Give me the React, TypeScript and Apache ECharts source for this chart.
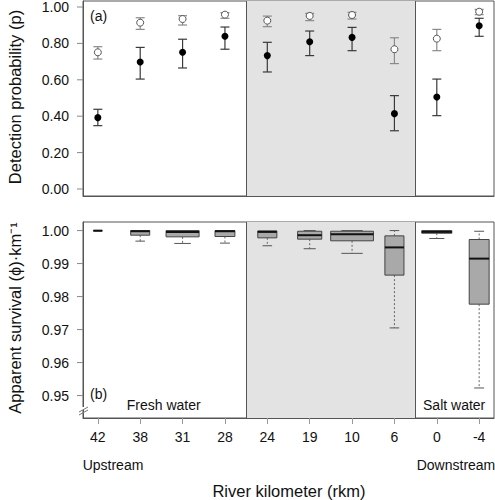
import React, { useEffect, useRef } from "react";
import * as echarts from "echarts";

// ---- data ----
const rkmLabels = ["42", "38", "31", "28", "24", "19", "10", "6", "0", "-4"];
const zoneNames = ["Fresh water", "Transition", "Salt water"];
const zoneCenters = [1.55, 5.5, 8.4];
const zoneBounds = [3.5, 7.5];
const pTicks = [0, 0.2, 0.4, 0.6, 0.8, 1.0];
const sTicks = [0.95, 0.96, 0.97, 0.98, 0.99, 1.0];

// detection probability: open circles
const pOpen = [0.751, 0.914, 0.934, 0.958, 0.925, 0.951, 0.956, 0.768, 0.826, 0.974];
const pOpenLow = [0.714, 0.877, 0.901, 0.938, 0.892, 0.925, 0.934, 0.689, 0.760, 0.958];
const pOpenHigh = [0.782, 0.941, 0.952, 0.969, 0.950, 0.965, 0.971, 0.831, 0.877, 0.987];
// detection probability: filled circles
const pFilled = [0.392, 0.698, 0.751, 0.839, 0.733, 0.809, 0.833, 0.414, 0.505, 0.897];
const pFilledLow = [0.348, 0.604, 0.665, 0.768, 0.643, 0.733, 0.760, 0.320, 0.403, 0.839];
const pFilledHigh = [0.438, 0.778, 0.823, 0.890, 0.806, 0.868, 0.888, 0.513, 0.604, 0.938];

// apparent survival boxplots
const sMin = [0.99995, 0.9968, 0.9961, 0.9962, 0.9954, 0.9945, 0.9931, 0.9705, 0.9976, 0.9523];
const sQ1 = [0.99995, 0.9986, 0.9981, 0.9982, 0.9978, 0.9974, 0.9969, 0.9865, 0.9992, 0.9777];
const sMed = [0.99998, 0.9998, 0.9996, 0.9998, 0.9996, 0.9986, 0.9989, 0.9949, 0.9996, 0.9915];
const sQ3 = [1.0, 1.0, 1.0, 1.0, 0.9999, 0.9998, 0.9998, 0.9984, 1.0, 0.9973];
const sMax = [1.0, 1.0, 1.0, 1.0, 1.0, 1.0, 1.0, 1.0, 1.0, 0.9998];
const boxWidths = [0.21, 0.45, 0.78, 0.47, 0.45, 0.57, 1.01, 0.45, 0.71, 0.47];

const FONT = "'Liberation Sans', Arial, Helvetica, sans-serif";
const X_MIN = -0.35;
const X_MAX = 9.35;

export default function App() {
  const ref = useRef<HTMLDivElement>(null);

  useEffect(() => {
    if (!ref.current) return;
    const chart = echarts.init(ref.current, null, { renderer: "svg" });

    const idx = rkmLabels.map((_, i) => i);

    const errRender = (color: string) => (params: any, api: any) => {
      const x = api.value(0);
      const lo = api.coord([x, api.value(1)]);
      const hi = api.coord([x, api.value(2)]);
      const hw = 4.5;
      const st = { stroke: color, lineWidth: 1.2 };
      return {
        type: "group",
        children: [
          { type: "line", shape: { x1: lo[0], y1: lo[1], x2: hi[0], y2: hi[1] }, style: st },
          { type: "line", shape: { x1: lo[0] - hw, y1: lo[1], x2: lo[0] + hw, y2: lo[1] }, style: st },
          { type: "line", shape: { x1: hi[0] - hw, y1: hi[1], x2: hi[0] + hw, y2: hi[1] }, style: st },
        ],
      };
    };

    const boxRender = (params: any, api: any) => {
      const x = api.value(0);
      const pMin = api.coord([x, api.value(1)]);
      const pQ1 = api.coord([x, api.value(2)]);
      const pMed = api.coord([x, api.value(3)]);
      const pQ3 = api.coord([x, api.value(4)]);
      const pMax = api.coord([x, api.value(5)]);
      const w = api.size([api.value(6), 0])[0];
      const hw = w / 2;
      const cw = w / 4;
      const cx = pMed[0];
      const children: any[] = [];
      const dash = { stroke: "#666", lineWidth: 1, lineDash: [2, 2] };
      const cap = { stroke: "#555", lineWidth: 1 };
      if (pMin[1] - pQ1[1] > 0.5) {
        children.push({ type: "line", shape: { x1: cx, y1: pQ1[1], x2: cx, y2: pMin[1] }, style: dash });
        children.push({ type: "line", shape: { x1: cx - cw, y1: pMin[1], x2: cx + cw, y2: pMin[1] }, style: cap });
      }
      if (pQ3[1] - pMax[1] > 0.5) {
        children.push({ type: "line", shape: { x1: cx, y1: pQ3[1], x2: cx, y2: pMax[1] }, style: dash });
        children.push({ type: "line", shape: { x1: cx - cw, y1: pMax[1], x2: cx + cw, y2: pMax[1] }, style: cap });
      }
      children.push({
        type: "rect",
        shape: { x: cx - hw, y: pQ3[1], width: w, height: Math.max(pQ1[1] - pQ3[1], 0.5) },
        style: { fill: "#a9a9a9", stroke: "#444", lineWidth: 1 },
      });
      children.push({
        type: "line",
        shape: { x1: cx - hw, y1: pMed[1], x2: cx + hw, y2: pMed[1] },
        style: { stroke: "#111", lineWidth: 2 },
      });
      return { type: "group", children };
    };

    // y-axis ticks + labels, placed through the axis scale
    const yTickRender = (params: any, api: any) => {
      const v = api.value(1);
      const p = api.coord([X_MIN, v]);
      return {
        type: "group",
        children: [
          { type: "line", shape: { x1: p[0] - 6, y1: p[1], x2: p[0], y2: p[1] }, style: { stroke: "#888", lineWidth: 1 } },
          {
            type: "text",
            x: p[0] - 14,
            y: p[1],
            style: { text: v.toFixed(2), font: `14px ${FONT}`, fill: "#111", textAlign: "right", textVerticalAlign: "middle" },
          },
        ],
      };
    };

    const shade = {
      silent: true,
      itemStyle: { color: "#e3e3e3" },
      data: [[{ xAxis: zoneBounds[0] }, { xAxis: zoneBounds[1] }]],
    };
    const bounds = {
      silent: true,
      symbol: ["none", "none"],
      label: { show: false },
      lineStyle: { color: "#555", type: "solid", width: 1 },
      data: zoneBounds.map((b) => ({ xAxis: b })),
    };

    const axisLineStyle = { show: true, onZero: false, lineStyle: { color: "#555", width: 1 } };

    const option: any = {
      animation: false,
      textStyle: { fontFamily: FONT },
      grid: [
        { left: 83, top: 1, width: 411, height: 195, show: true, borderColor: "#555", borderWidth: 1 },
        { left: 83, top: 222, width: 411, height: 196, show: true, borderColor: "#555", borderWidth: 1 },
      ],
      xAxis: [
        {
          type: "value",
          gridIndex: 0,
          min: X_MIN,
          max: X_MAX,
          splitLine: { show: false },
          axisLine: axisLineStyle,
          axisTick: { show: false },
          axisLabel: { show: false },
        },
        {
          type: "value",
          gridIndex: 1,
          min: X_MIN,
          max: X_MAX,
          splitLine: { show: false },
          axisLine: axisLineStyle,
          axisTick: { show: true, length: 6, lineStyle: { color: "#999" }, customValues: idx },
          axisLabel: {
            customValues: idx,
            margin: 12,
            fontSize: 14,
            color: "#111",
            fontFamily: FONT,
            formatter: (v: number) => rkmLabels[Math.round(v)],
          },
        },
      ],
      yAxis: [
        {
          type: "value",
          gridIndex: 0,
          min: -0.0385,
          max: 1.033,
          splitLine: { show: false },
          axisLine: axisLineStyle,
          axisTick: { show: false },
          axisLabel: { show: false },
        },
        {
          type: "value",
          gridIndex: 1,
          min: 0.9432,
          max: 1.0026,
          splitLine: { show: false },
          axisLine: axisLineStyle,
          axisTick: { show: false },
          axisLabel: { show: false },
        },
      ],
      series: [
        {
          type: "scatter",
          xAxisIndex: 0,
          yAxisIndex: 0,
          data: [],
          z: 1,
          markArea: shade,
          markLine: bounds,
        },
        {
          type: "scatter",
          xAxisIndex: 1,
          yAxisIndex: 1,
          data: [],
          z: 1,
          markArea: shade,
          markLine: bounds,
        },
        {
          type: "custom",
          xAxisIndex: 0,
          yAxisIndex: 0,
          clip: false,
          renderItem: yTickRender,
          encode: { x: 0, y: 1 },
          data: pTicks.map((v) => [X_MIN, v]),
          z: 5,
          silent: true,
        },
        {
          type: "custom",
          xAxisIndex: 1,
          yAxisIndex: 1,
          clip: false,
          renderItem: yTickRender,
          encode: { x: 0, y: 1 },
          data: sTicks.map((v) => [X_MIN, v]),
          z: 5,
          silent: true,
        },
        {
          type: "custom",
          xAxisIndex: 0,
          yAxisIndex: 0,
          renderItem: errRender("#8a8a8a"),
          encode: { x: 0, y: [1, 2] },
          data: idx.map((i) => [i, pOpenLow[i], pOpenHigh[i]]),
          z: 3,
          silent: true,
        },
        {
          type: "custom",
          xAxisIndex: 0,
          yAxisIndex: 0,
          renderItem: errRender("#3a3a3a"),
          encode: { x: 0, y: [1, 2] },
          data: idx.map((i) => [i, pFilledLow[i], pFilledHigh[i]]),
          z: 3,
          silent: true,
        },
        {
          type: "scatter",
          xAxisIndex: 0,
          yAxisIndex: 0,
          symbol: "circle",
          symbolSize: 7,
          itemStyle: { color: "#ffffff", borderColor: "#555", borderWidth: 1, opacity: 1 },
          data: idx.map((i) => [i, pOpen[i]]),
          z: 4,
          silent: true,
        },
        {
          type: "scatter",
          xAxisIndex: 0,
          yAxisIndex: 0,
          symbol: "circle",
          symbolSize: 7,
          itemStyle: { color: "#000000", opacity: 1 },
          data: idx.map((i) => [i, pFilled[i]]),
          z: 4,
          silent: true,
        },
        {
          type: "custom",
          xAxisIndex: 1,
          yAxisIndex: 1,
          renderItem: boxRender,
          encode: { x: 0, y: [1, 2, 3, 4, 5] },
          data: idx.map((i) => [i, sMin[i], sQ1[i], sMed[i], sQ3[i], sMax[i], boxWidths[i]]),
          z: 3,
          silent: true,
        },
      ],
      graphic: [
        { type: "text", left: 90, top: 9, style: { text: "(a)", font: `14px ${FONT}`, fill: "#111" } },
        { type: "text", left: 90, top: 387, style: { text: "(b)", font: `14px ${FONT}`, fill: "#111" } },
        ...zoneNames.map((z, i) => ({
          type: "text",
          x: 98 + 42.4 * zoneCenters[i],
          y: 405,
          style: { text: z, font: `14px ${FONT}`, fill: "#111", textAlign: "center", textVerticalAlign: "middle" },
        })),
        { type: "text", x: 113, y: 465, style: { text: "Upstream", font: `14px ${FONT}`, fill: "#111", textAlign: "center", textVerticalAlign: "middle" } },
        { type: "text", x: 456, y: 465, style: { text: "Downstream", font: `14px ${FONT}`, fill: "#111", textAlign: "center", textVerticalAlign: "middle" } },
        { type: "text", x: 289, y: 491, style: { text: "River kilometer (rkm)", font: `16.5px ${FONT}`, fill: "#111", textAlign: "center", textVerticalAlign: "middle" } },
        {
          type: "text",
          x: 15,
          y: 97,
          rotation: Math.PI / 2,
          style: { text: "Detection probability (p)", font: `16.5px ${FONT}`, fill: "#111", textAlign: "center", textVerticalAlign: "middle" },
        },
        {
          type: "text",
          x: 15,
          y: 318,
          rotation: Math.PI / 2,
          style: { text: "Apparent survival (\u03d5)\u00b7km\u207b\u00b9", font: `16.5px ${FONT}`, fill: "#111", textAlign: "center", textVerticalAlign: "middle" },
        },
        // axis break marks
        { type: "rect", shape: { x: 80, y: 407, width: 7, height: 3 }, style: { fill: "#fff" }, z: 20 },
        { type: "line", shape: { x1: 79, y1: 412, x2: 88, y2: 407 }, style: { stroke: "#777", lineWidth: 1 }, z: 21 },
        { type: "line", shape: { x1: 79, y1: 415, x2: 88, y2: 410 }, style: { stroke: "#777", lineWidth: 1 }, z: 21 },
      ],
    };

    chart.setOption(option);
    return () => chart.dispose();
  }, []);

  return (
    <div
      ref={ref}
      style={{ position: "absolute", left: 0, top: 0, width: 495, height: 500, background: "#fff" }}
    />
  );
}
